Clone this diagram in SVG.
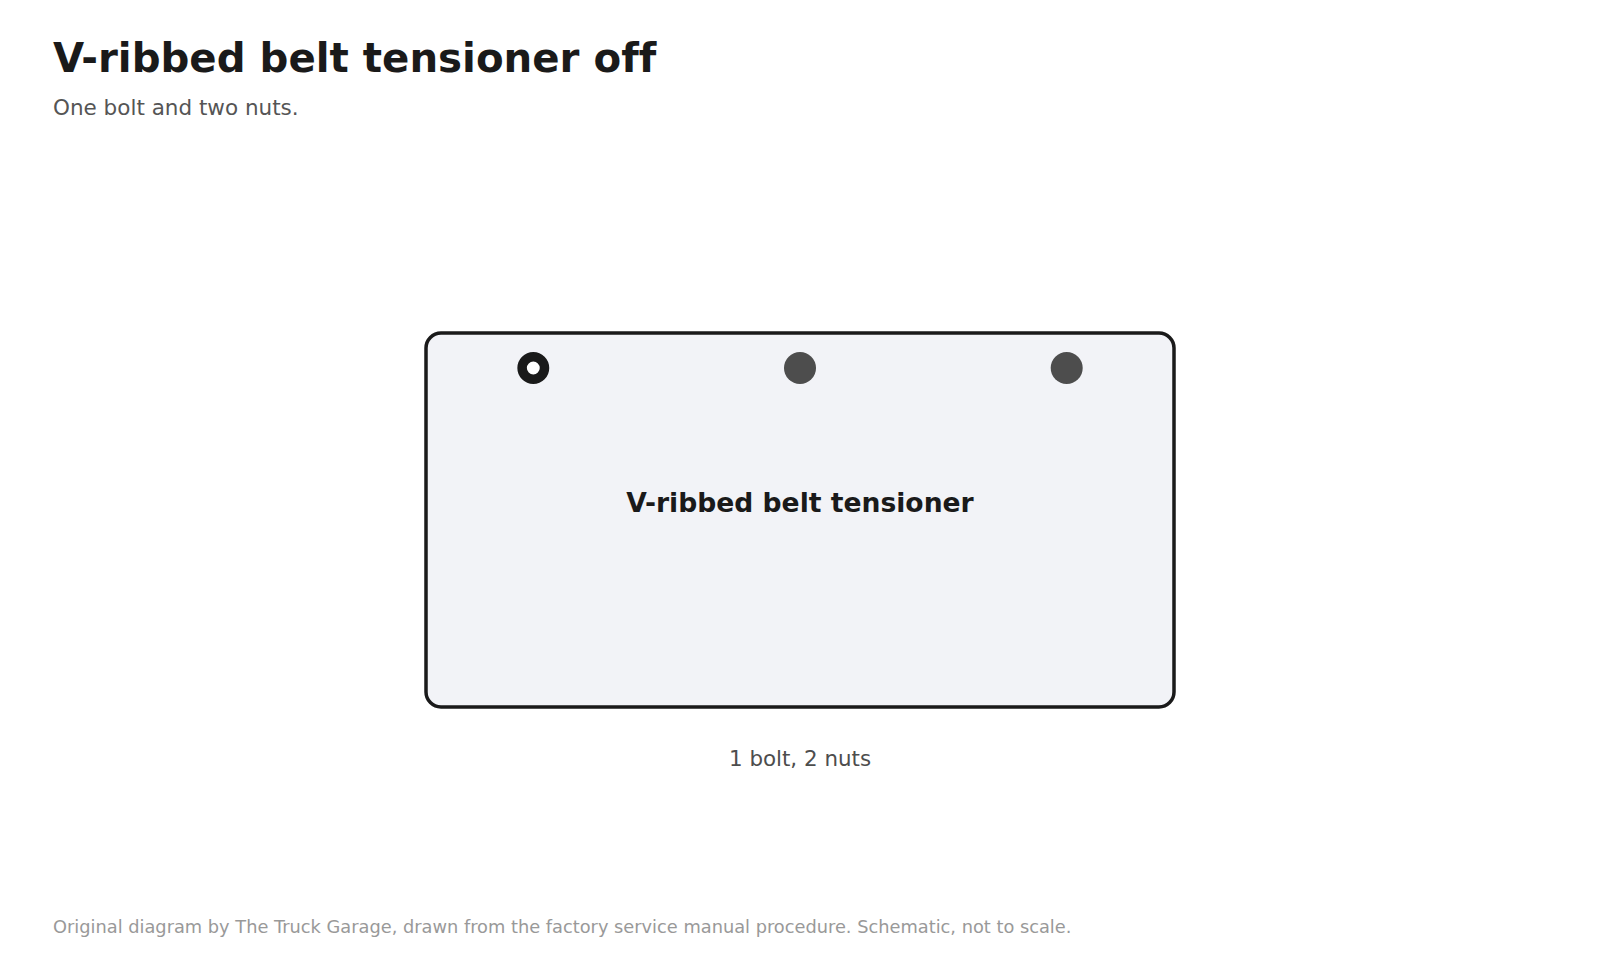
<svg xmlns="http://www.w3.org/2000/svg" width="1600" height="960" viewBox="0 0 1600 960">
  <style>
    .t { font-family: "DejaVu Sans", Verdana, sans-serif; font-variant-ligatures: none; }
    .title { font-size: 40.3px; font-weight: bold; fill: #1a1a1a; }
    .sub { font-size: 21.5px; fill: #555555; }
    .lbl { font-size: 26.6px; font-weight: bold; fill: #1a1a1a; }
    .cap { font-size: 21.4px; fill: #4d4d4d; }
    .foot { font-size: 17.8px; fill: #999999; }
    .part { fill: #f2f3f7; stroke: #1a1a1a; stroke-width: 3.5; }
    .bolt { fill: #ffffff; stroke: #1a1a1a; stroke-width: 9.5; }
    .nut { fill: #4d4d4d; }
  </style>
  <rect width="1600" height="960" fill="#ffffff"/>
  <text class="t title" x="53" y="72">V-ribbed belt tensioner off</text>
  <text class="t sub" x="53" y="115">One bolt and two nuts.</text>
  <g id="tensioner">
    <rect class="part" x="426" y="333" width="748" height="374" rx="15"/>
    <text class="t lbl" x="800" y="512" text-anchor="middle">V-ribbed belt tensioner</text>
  </g>
  <g id="bolt1">
    <circle class="bolt" cx="533.3" cy="368" r="11.2"/>
  </g>
  <g id="nut1">
    <circle class="nut" cx="800" cy="368" r="16"/>
  </g>
  <g id="nut2">
    <circle class="nut" cx="1066.7" cy="368" r="16"/>
  </g>
  <g id="connectors"></g>
  <text class="t cap" x="800" y="766" text-anchor="middle">1 bolt, 2 nuts</text>
  <text class="t foot" x="53" y="933">Original diagram by The Truck Garage, drawn from the factory service manual procedure. Schematic, not to scale.</text>
</svg>
